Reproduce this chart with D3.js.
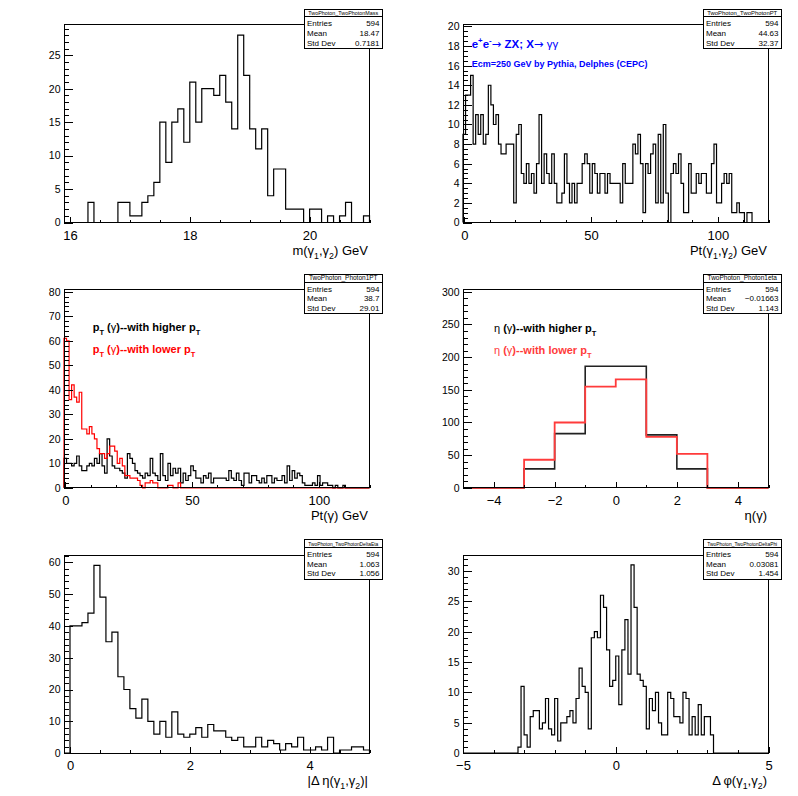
<!DOCTYPE html>
<html lang="en"><head>
<meta charset="utf-8">
<title>Two photon histograms</title>
<script src="https://cdn.jsdelivr.net/npm/d3@7"></script>
<style>
  body { margin: 0; background: #fff; }
  svg text { font-family: "Liberation Sans", Arial, Helvetica, sans-serif; }
</style>
</head>
<body>
<script>
// ---- data (bin contents) ----
// m(g1,g2): bins of 0.1 GeV starting at 15.9
var massLow = 15.9, massWidth = 0.1;
var massCounts = [0,0,0,0,3,0,0,0,0,3, 3,1,1,3,4,6,15,9,15,17, 12,21,15,20,20,19,22,18,14,28,
                  22,14,11,14,4,8,8,2,2,2, 0,2,2,0,1,0,1,3,0,0, 1];

// Pt(g1,g2): 1 GeV bins centred on integers
var pairPtLow = -0.5, pairPtWidth = 1;
var pairPtCounts = [9,13,13,15,8,11,9,11,8,9, 14,12,10,11,8,7,7,8,8,8, 2,9,10,5,4,6,4,5,3,6,
                    11,4,7,5,4,7,4,2,2,3, 7,4,2,4,2,4,4,6,7,6, 3,6,5,3,5,5,3,5,4,4,
                    4,4,2,6,4,4,4,8,7,9, 6,1,6,5,7,8,2,9,2,10, 3,0,5,6,5,7,4,1,1,6,
                    3,3,5,4,5,5,3,3,6,8, 2,2,4,5,4,5,1,1,2,1, 1,0,1,1,0,0,0,0,0,0];

// Pt of single photons
var photonPtLow = -0.5, photonPtWidth = 1;
var photonPtHigh = [12,10,10,9,10,13,9,7,7,9, 10,9,12,10,14,9,6,20,13,9, 8,8,7,6,4,14,12,10,7,6,
                    5,4,6,5,12,6,5,3,14,5, 3,10,5,8,6,8,2,6,3,5, 9,7,4,4,2,5,4,6,2,4,
                    4,4,4,4,3,7,4,3,6,3, 1,6,6,2,5,5,3,2,4,2, 5,5,2,4,3,3,5,2,9,3,
                    7,4,6,5,2,1,1,1,2,1, 5,1,2,2,1,1,0,1,0,0, 1,0,0,0,0,0,0,0,0,0];
var photonPtLowPt = [61,60,36,42,37,35,39,24,24,22, 25,22,20,16,14,14,12,14,17,17, 15,10,12,9,5,5,4,4,4,3,
                     1,0,2,2,3,2,2,0,0,0, 0,1,1,0,0,2,0,0,0,0, 0,0,0,0,0,0,0,0,0,0,
                     0,0,0,0,0,0,0,0,0,0, 0,0,0,0,0,0,0,0,0,0, 0,0,0,0,0,0,0,0,0,0,
                     0,0,0,0,0,0,0,0,0,0, 0,0,0,0,0,0,0,0,0,0, 0,0,0,0,0,0,0,0,0,0];

// eta of single photons: unit bins from -5
var etaLow = -5, etaWidth = 1;
var etaHigh = [0,0,29,83,186,186,81,29,0,0];
var etaLowPt = [0,0,43,100,155,166,78,52,0,0];

// |delta eta|: bins of 0.1 starting at -0.1
var dEtaLow = -0.1, dEtaWidth = 0.1;
var dEtaCounts = [0, 40,40,41,44,59,49,35,38,24,20, 14,11,17,10,6,10,5,13,6,5, 6,8,5,9,7,7,5,4,5,2,
                  2,5,2,4,3,1,3,2,5,1, 1,2,1,5,0,1,1,2,2,1];

// delta phi: bins of 0.1 starting at -3.2
var dPhiLow = -3.2, dPhiWidth = 0.1;
var dPhiCounts = [1,11,3,1,6,7,7,4,5,9, 4,3,9,2,5,5,6,7,5,9, 14,11,10,4,19,20,19,26,24,17,
                  11,12,16,8,17,22,13,31,24,13, 12,11,4,9,7,10,5,3,3,10, 9,6,6,5,10,9,3,6,3,8,
                  3,6,6,3];

// tick labels
var massTicks = [16, 18, 20];
var ptTicks = [0, 50, 100];
var etaTicks = [-4, -2, 0, 2, 4];
var dEtaTicks = [0, 2, 4];
var dPhiTicks = [-5, 0, 5];

// stat boxes
var statNames = ["TwoPhoton_TwoPhotonMass", "TwoPhoton_TwoPhotonPT", "TwoPhoton_Photon1PT",
                 "TwoPhoton_Photon1eta", "TwoPhoton_TwoPhotonDeltaEta", "TwoPhoton_TwoPhotonDeltaPhi"];
var statEntries = ["594", "594", "594", "594", "594", "594"];
var statMeans = ["18.47", "44.63", "38.7", "\u22120.01663", "1.063", "0.03081"];
var statStdDevs = ["0.7181", "32.37", "29.01", "1.143", "1.056", "1.454"];

// ---- layout ----
var width = 798, height = 796;
var padW = 399, padH = 796 / 3;
var fr = { left: 64, right: 369.5, top: 24.5, bottom: 222.5 };

var svg = d3.select("body").append("svg")
            .attr("width", width)
            .attr("height", height);
svg.append("rect").attr("width", width).attr("height", height).attr("fill", "#fff");

var GAMMA = "\u03b3", ARROW = "\u2192";

var panels = [
  { col: 0, row: 0, x: [15.9, 21.0], xTicks: massTicks, xMinor: [16, 21, 0.5],
    y: [0, 29.6], yMajor: 5, yMinor: 1,
    hists: [{ low: massLow, w: massWidth, counts: massCounts, color: "#000", lw: 1.2 }],
    title: [{ t: "m(" + GAMMA }, { t: "1", sub: 1 }, { t: "," + GAMMA }, { t: "2", sub: 1 }, { t: ") GeV" }] },
  { col: 1, row: 0, x: [-0.5, 120], xTicks: ptTicks, xMinor: [0, 120, 10],
    y: [0, 20.2], yMajor: 2, yMinor: 0.5,
    hists: [{ low: pairPtLow, w: pairPtWidth, counts: pairPtCounts, color: "#000", lw: 1.2 }],
    title: [{ t: "Pt(" + GAMMA }, { t: "1", sub: 1 }, { t: "," + GAMMA }, { t: "2", sub: 1 }, { t: ") GeV" }] },
  { col: 0, row: 1, x: [-0.5, 120], xTicks: ptTicks, xMinor: [0, 120, 10],
    y: [0, 80.8], yMajor: 10, yMinor: 2,
    hists: [{ low: photonPtLow, w: photonPtWidth, counts: photonPtHigh, color: "#000", lw: 1.2 },
            { low: photonPtLow, w: photonPtWidth, counts: photonPtLowPt, color: "#ff0000", lw: 1.2 }],
    title: [{ t: "Pt(" + GAMMA + ") GeV" }] },
  { col: 1, row: 1, x: [-5, 5], xTicks: etaTicks, xMinor: [-5, 5, 1],
    y: [0, 303], yMajor: 50, yMinor: 10,
    hists: [{ low: etaLow, w: etaWidth, counts: etaHigh, color: "#222", lw: 1.6 },
            { low: etaLow, w: etaWidth, counts: etaLowPt, color: "#ff3b3b", lw: 1.8 }],
    title: [{ t: "\u03b7(" + GAMMA + ")" }] },
  { col: 0, row: 2, x: [-0.1, 5], xTicks: dEtaTicks, xMinor: [0, 5, 0.5],
    y: [0, 62.2], yMajor: 10, yMinor: 2,
    hists: [{ low: dEtaLow, w: dEtaWidth, counts: dEtaCounts, color: "#000", lw: 1.2 }],
    title: [{ t: "|\u0394\u2009\u03b7(" + GAMMA }, { t: "1", sub: 1 }, { t: "," + GAMMA }, { t: "2", sub: 1 }, { t: ")|" }] },
  { col: 1, row: 2, x: [-5, 5], xTicks: dPhiTicks, xMinor: [-5, 5, 1],
    y: [0, 32.6], yMajor: 5, yMinor: 1,
    hists: [{ low: dPhiLow, w: dPhiWidth, counts: dPhiCounts, color: "#000", lw: 1.2 }],
    title: [{ t: "\u0394\u2009\u03c6(" + GAMMA }, { t: "1", sub: 1 }, { t: "," + GAMMA }, { t: "2", sub: 1 }, { t: ")" }] }
];

// text with sub/superscript pieces
function richText(g, x, y, parts, size, opts) {
  opts = opts || {};
  var t = g.append("text")
           .attr("x", x).attr("y", y)
           .attr("font-size", size)
           .attr("fill", opts.fill || "#000")
           .attr("font-weight", opts.weight || "normal")
           .attr("text-anchor", opts.anchor || "start");
  var shift = 0;
  parts.forEach(function(p) {
    var target = p.sub ? size * 0.32 : (p.sup ? -size * 0.42 : 0);
    var s = t.append("tspan").text(p.t).attr("dy", target - shift);
    shift = target;
    if (p.sub || p.sup) s.attr("font-size", size * 0.68);
    if (p.w) s.attr("font-weight", p.w);
    if (p.fam) s.style("font-family", p.fam);
  });
  return t;
}

function histPoints(h, xd) {
  var pts = [[xd[0], 0], [h.low, 0]];
  h.counts.forEach(function(c, i) {
    pts.push([h.low + i * h.w, c]);
    pts.push([h.low + (i + 1) * h.w, c]);
  });
  var end = h.low + h.counts.length * h.w;
  pts.push([end, 0]);
  pts.push([xd[1], 0]);
  return pts;
}

panels.forEach(function(p, k) {
  var g = svg.append("g")
             .attr("transform", "translate(" + (p.col * padW) + "," + (p.row * padH) + ")");

  var x = d3.scaleLinear().domain(p.x).range([fr.left, fr.right]);
  var y = d3.scaleLinear().domain(p.y).range([fr.bottom, fr.top]);

  // histograms
  var line = d3.line()
               .x(function(d) { return x(d[0]); })
               .y(function(d) { return y(d[1]); });
  p.hists.forEach(function(h) {
    g.append("path")
     .attr("d", line(histPoints(h, p.x)))
     .attr("fill", "none")
     .attr("stroke", h.color)
     .attr("stroke-width", h.lw)
     .attr("stroke-linejoin", "miter");
  });

  // y axis: major and minor ticks inside the frame
  var yMaj = d3.range(0, p.y[1] + 1e-9, p.yMajor);
  var yMin = d3.range(0, p.y[1] + 1e-9, p.yMinor);
  var yMinorAxis = g.append("g")
                    .attr("transform", "translate(" + fr.left + ",0)")
                    .call(d3.axisLeft(y).tickValues(yMin).tickSize(-4.5).tickFormat(""));
  var yAxis = g.append("g")
               .attr("transform", "translate(" + fr.left + ",0)")
               .call(d3.axisLeft(y).tickValues(yMaj).tickSize(-9).tickPadding(3.5)
                       .tickFormat(d3.format("d")));

  // x axis
  var xMin = d3.range(p.xMinor[0], p.xMinor[1] + 1e-9, p.xMinor[2]);
  var xMinorAxis = g.append("g")
                    .attr("transform", "translate(0," + fr.bottom + ")")
                    .call(d3.axisBottom(x).tickValues(xMin).tickSize(-3).tickFormat(""));
  var xAxis = g.append("g")
               .attr("transform", "translate(0," + fr.bottom + ")")
               .call(d3.axisBottom(x).tickValues(p.xTicks).tickSize(-6).tickPadding(8)
                       .tickFormat(d3.format("d")));

  [yMinorAxis, yAxis, xMinorAxis, xAxis].forEach(function(a) {
    a.select(".domain").remove();
    a.attr("font-family", null);
    a.selectAll("line").attr("stroke", "#000").attr("shape-rendering", "crispEdges");
  });
  yAxis.selectAll("text").attr("font-size", 10.5).attr("fill", "#000");
  xAxis.selectAll("text").attr("font-size", 13).attr("fill", "#000");

  // frame
  g.append("rect")
   .attr("x", fr.left).attr("y", fr.top)
   .attr("width", fr.right - fr.left).attr("height", fr.bottom - fr.top)
   .attr("fill", "none").attr("stroke", "#000").attr("stroke-width", 1)
   .attr("shape-rendering", "crispEdges");

  // axis title
  richText(g, 368, 254.5, p.title, 13, { anchor: "end" });

  // stat box
  var sb = { x: 304.5, y: 9, w: 77.5, h: 39.5 };
  var box = g.append("g");
  box.append("rect")
     .attr("x", sb.x).attr("y", sb.y).attr("width", sb.w).attr("height", sb.h)
     .attr("fill", "#fff").attr("stroke", "#000").attr("shape-rendering", "crispEdges");
  box.append("line")
     .attr("x1", sb.x).attr("x2", sb.x + sb.w).attr("y1", 16.8).attr("y2", 16.8)
     .attr("stroke", "#000").attr("shape-rendering", "crispEdges");
  var head = box.append("text")
                .attr("x", sb.x + sb.w / 2).attr("y", 15)
                .attr("text-anchor", "middle")
                .attr("font-size", 6.5)
                .text(statNames[k]);
  var hw = head.node().getComputedTextLength();
  if (hw > 70) head.attr("font-size", 6.5 * 70 / hw);
  var rows = [["Entries", statEntries[k]], ["Mean", statMeans[k]], ["Std Dev", statStdDevs[k]]];
  rows.forEach(function(r, i) {
    var yy = 26.3 + i * 9.6;
    box.append("text").attr("x", sb.x + 2.5).attr("y", yy).attr("font-size", 8).text(r[0]);
    box.append("text").attr("x", sb.x + sb.w - 2.5).attr("y", yy).attr("font-size", 8)
       .attr("text-anchor", "end").text(r[1]);
  });

  // annotations
  if (k === 1) {
    richText(g, 72.7, 47.5, [
      { t: "e" }, { t: "+", sup: 1 }, { t: "e" }, { t: "-", sup: 1 },
      { t: ARROW, w: "normal", fam: "DejaVu Sans" }, { t: " ZX; X" },
      { t: ARROW, w: "normal", fam: "DejaVu Sans" },
      { t: " " + GAMMA + GAMMA, w: "normal" }
    ], 11.5, { fill: "#0000ff", weight: "bold" });
    richText(g, 72.7, 67.3, [{ t: "Ecm=250 GeV by Pythia, Delphes (CEPC)" }], 9,
             { fill: "#0000ff", weight: "bold" });
  }
  if (k === 2) {
    richText(g, 92.7, 66, [
      { t: "p" }, { t: "T", sub: 1 }, { t: " (" }, { t: GAMMA, w: "normal" }, { t: ")--with higher p" }, { t: "T", sub: 1 }
    ], 11, { weight: "bold" });
    richText(g, 92.7, 88, [
      { t: "p" }, { t: "T", sub: 1 }, { t: " (" }, { t: GAMMA, w: "normal" }, { t: ")--with lower p" }, { t: "T", sub: 1 }
    ], 11, { weight: "bold", fill: "#ff0000" });
  }
  if (k === 3) {
    richText(g, 95, 67, [
      { t: "\u03b7", w: "normal" }, { t: " (" }, { t: GAMMA, w: "normal" }, { t: ")--with higher p" }, { t: "T", sub: 1 }
    ], 11, { weight: "bold" });
    richText(g, 95, 89, [
      { t: "\u03b7", w: "normal" }, { t: " (" }, { t: GAMMA, w: "normal" }, { t: ")--with lower p" }, { t: "T", sub: 1 }
    ], 11, { weight: "bold", fill: "#ff3b3b" });
  }
});
</script>
</body></html>
